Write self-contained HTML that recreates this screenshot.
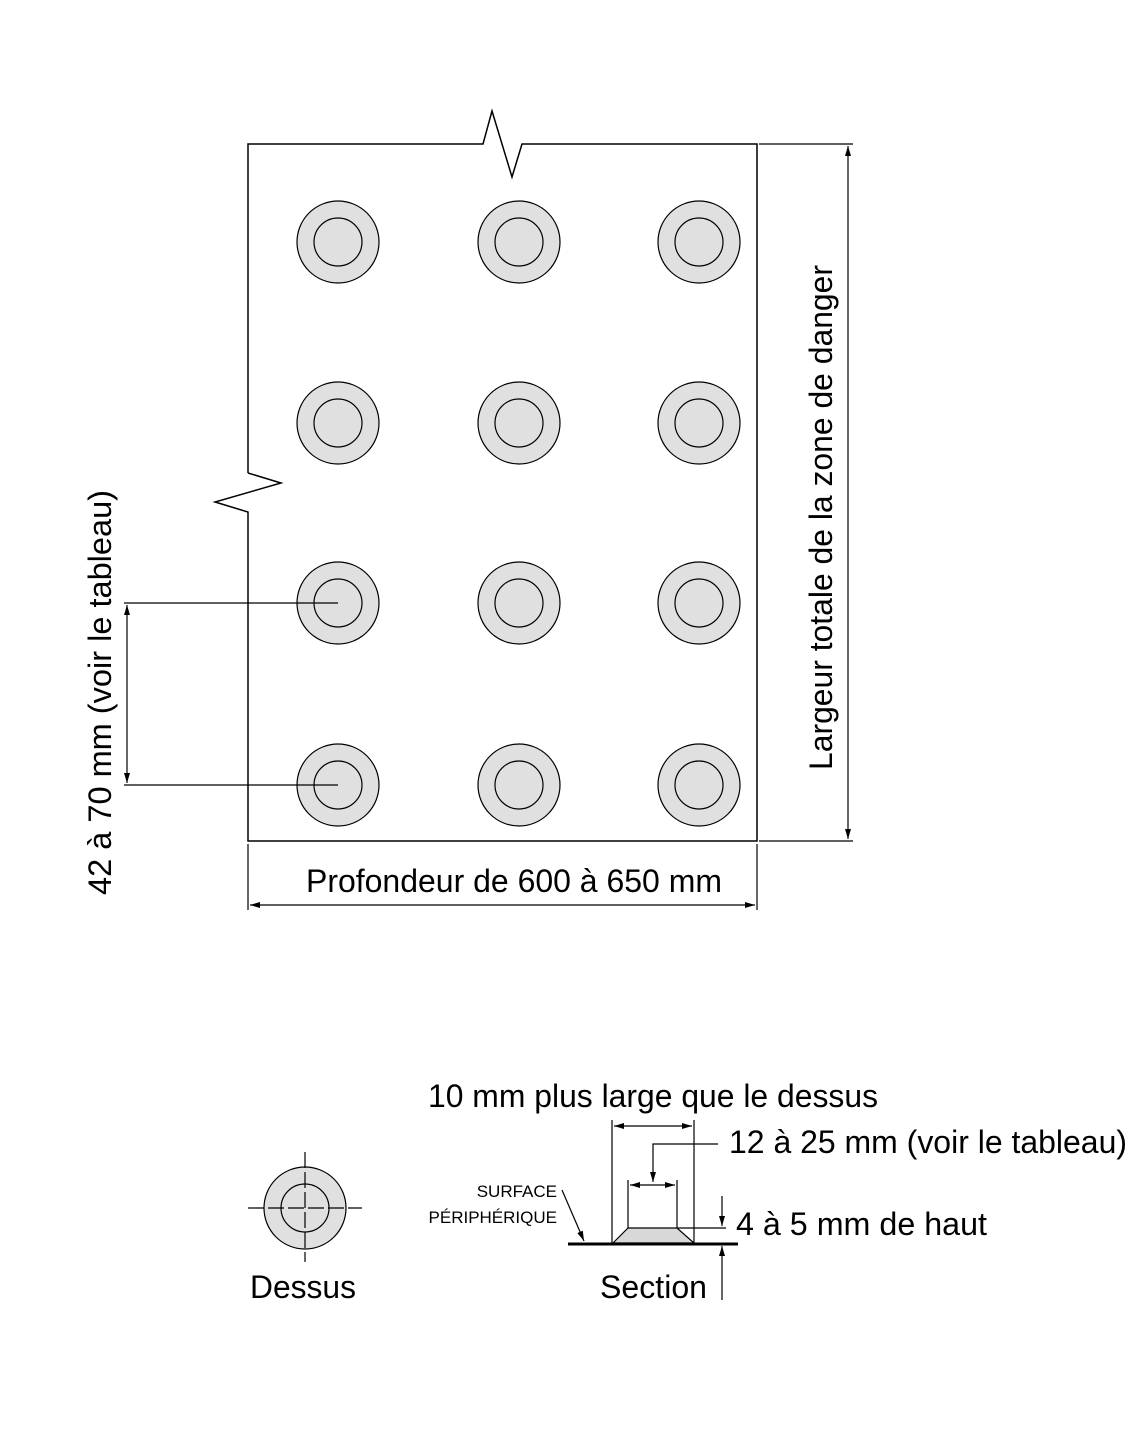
<!DOCTYPE html>
<html><head><meta charset="utf-8"><style>
html,body{margin:0;padding:0;background:#fff}
svg{display:block}
text{font-family:"Liberation Sans",Arial,sans-serif;fill:#000}
</style></head><body>
<svg width="1140" height="1431" viewBox="0 0 1140 1431" xmlns="http://www.w3.org/2000/svg">
<defs>
<marker id="a" viewBox="0 0 10 6" refX="10" refY="3" markerWidth="10" markerHeight="6" markerUnits="userSpaceOnUse" orient="auto-start-reverse"><path d="M0,0 L10,3 L0,6 z" fill="#000"/></marker>
</defs>
<g fill="none" stroke="#000" stroke-width="1.5">
<path d="M248,473 L248,144 L483,144 L492,111 L512,177 L522,144 L757,144 L757,841 L248,841 L248,512 L215,502 L281,483 L248,473"/>
</g>
<g stroke="#000" stroke-width="1.2">
<g fill="#e0e0e0">
<circle cx="338" cy="242" r="41"/><circle cx="519" cy="242" r="41"/><circle cx="699" cy="242" r="41"/>
<circle cx="338" cy="423" r="41"/><circle cx="519" cy="423" r="41"/><circle cx="699" cy="423" r="41"/>
<circle cx="338" cy="603" r="41"/><circle cx="519" cy="603" r="41"/><circle cx="699" cy="603" r="41"/>
<circle cx="338" cy="785" r="41"/><circle cx="519" cy="785" r="41"/><circle cx="699" cy="785" r="41"/>
<circle cx="305" cy="1208" r="41"/>
</g>
<g fill="none">
<circle cx="338" cy="242" r="24"/><circle cx="519" cy="242" r="24"/><circle cx="699" cy="242" r="24"/>
<circle cx="338" cy="423" r="24"/><circle cx="519" cy="423" r="24"/><circle cx="699" cy="423" r="24"/>
<circle cx="338" cy="603" r="24"/><circle cx="519" cy="603" r="24"/><circle cx="699" cy="603" r="24"/>
<circle cx="338" cy="785" r="24"/><circle cx="519" cy="785" r="24"/><circle cx="699" cy="785" r="24"/>
<circle cx="305" cy="1208" r="24"/>
</g>
</g>
<g stroke="#000" stroke-width="1.2" fill="none">
<line x1="124" y1="603" x2="338" y2="603"/>
<line x1="124" y1="785" x2="338" y2="785"/>
<line x1="127" y1="605" x2="127" y2="783" marker-start="url(#a)" marker-end="url(#a)"/>
<line x1="759" y1="144" x2="853" y2="144"/>
<line x1="759" y1="841" x2="853" y2="841"/>
<line x1="848" y1="146" x2="848" y2="839" marker-start="url(#a)" marker-end="url(#a)"/>
<line x1="248" y1="844" x2="248" y2="910"/>
<line x1="757" y1="844" x2="757" y2="910"/>
<line x1="250" y1="905" x2="755" y2="905" marker-start="url(#a)" marker-end="url(#a)"/>
<g stroke-dasharray="16,4">
<line x1="248" y1="1208" x2="362" y2="1208"/>
<line x1="305" y1="1152" x2="305" y2="1262"/>
</g>
<line x1="612" y1="1120" x2="612" y2="1244"/>
<line x1="694" y1="1120" x2="694" y2="1244"/>
<line x1="614" y1="1126" x2="692" y2="1126" marker-start="url(#a)" marker-end="url(#a)"/>
<line x1="628" y1="1180" x2="628" y2="1228"/>
<line x1="677" y1="1180" x2="677" y2="1228"/>
<line x1="630" y1="1185" x2="675" y2="1185" marker-start="url(#a)" marker-end="url(#a)"/>
<polyline points="718,1144 653,1144 653,1182" marker-end="url(#a)"/>
<path d="M613,1243 L628,1228 L677,1228 L694,1243 Z" fill="#d8d8d8"/>
<line x1="677" y1="1228" x2="726" y2="1228"/>
<line x1="722" y1="1196" x2="722" y2="1226" marker-end="url(#a)"/>
<line x1="722" y1="1300" x2="722" y2="1246" marker-end="url(#a)"/>
<line x1="562" y1="1190" x2="584" y2="1241" marker-end="url(#a)"/>
</g>
<line x1="568" y1="1244" x2="738" y2="1244" stroke="#000" stroke-width="3"/>
<text x="306" y="892" font-size="32" textLength="416" lengthAdjust="spacingAndGlyphs">Profondeur de 600 à 650 mm</text>
<text transform="translate(832,770) rotate(-90)" font-size="32" textLength="505" lengthAdjust="spacingAndGlyphs">Largeur totale de la zone de danger</text>
<text transform="translate(111,895) rotate(-90)" font-size="32" textLength="405" lengthAdjust="spacingAndGlyphs">42 à 70 mm (voir le tableau)</text>
<text x="428" y="1107" font-size="32" textLength="450" lengthAdjust="spacingAndGlyphs">10 mm plus large que le dessus</text>
<text x="729" y="1153" font-size="32" textLength="398" lengthAdjust="spacingAndGlyphs">12 à 25 mm (voir le tableau)</text>
<text x="736" y="1235" font-size="32" textLength="251" lengthAdjust="spacingAndGlyphs">4 à 5 mm de haut</text>
<text x="557" y="1197" font-size="17" text-anchor="end">SURFACE</text>
<text x="557" y="1223" font-size="17" text-anchor="end">PÉRIPHÉRIQUE</text>
<text x="250" y="1298" font-size="32" textLength="106" lengthAdjust="spacingAndGlyphs">Dessus</text>
<text x="600" y="1298" font-size="32" textLength="107" lengthAdjust="spacingAndGlyphs">Section</text>
</svg>
</body></html>
